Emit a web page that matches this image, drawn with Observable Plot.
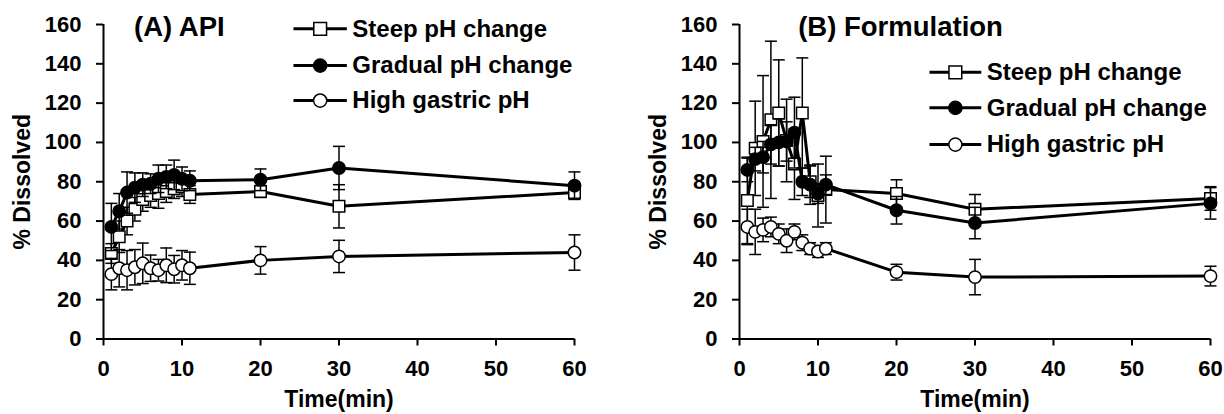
<!DOCTYPE html>
<html><head><meta charset="utf-8">
<script src="https://cdn.jsdelivr.net/npm/d3@7"></script>
<script src="https://cdn.jsdelivr.net/npm/@observablehq/plot@0.6"></script>
<style>
body{margin:0;background:#fff;}
#wrap{width:1224px;height:414px;display:flex;background:#fff;}
</style></head><body><div id="wrap"></div>
<script>
// ---- data ----
const times = [1, 2, 3, 4, 5, 6, 7, 8, 9, 10, 11, 20, 30, 60];
const seriesNames = ["Steep pH change", "Gradual pH change", "High gastric pH"];
const xTicks = [0, 10, 20, 30, 40, 50, 60];
const yTicks = [0, 20, 40, 60, 80, 100, 120, 140, 160];
const panelTitles = ["(A) API", "(B) Formulation"];

// (A) API
const apiSteep      = [43.5, 52, 60, 66, 71, 73, 74, 75, 76.5, 77.5, 73.5, 75, 67.5, 74.5];
const apiSteepSD    = [5, 8, 7, 6, 6, 6, 7.5, 5.5, 5, 5, 4.5, 3, 11, 3];
const apiGradual    = [57, 65, 74.5, 77, 78.5, 79, 81.5, 82.5, 83.5, 81.5, 80.5, 81, 87, 78];
const apiGradualSD  = [12, 9, 10.5, 7.5, 6, 5, 7, 6, 7.5, 6, 5, 5.5, 11, 7];
const apiHigh       = [33, 36, 35, 36.5, 38.5, 36, 35, 37.5, 35.5, 37.5, 36, 40, 42, 44];
const apiHighSD     = [8, 9.5, 10, 9, 10.3, 6.7, 5.5, 8.8, 7, 7.5, 8.2, 7, 8.2, 9];

// (B) Formulation
const formSteep     = [70.5, 97, 100.5, 111.5, 115, 101, 89, 115, 80, 73, 76, 74, 66, 71.5];
const formSteepSD   = [22, 24, 33.5, 40, 27, 21, 18, 28, 8, 16, 17, 7, 7.5, 6];
const formGradual   = [86, 91.5, 92.5, 99, 100, 100.5, 105, 80, 78.5, 74, 78.5, 65.5, 59, 69];
const formGradualSD = [6, 6, 8, 10, 12, 10, 18, 7, 10, 5, 5, 7, 8, 8];
const formHigh      = [57, 54.5, 55.5, 57, 53.5, 50, 54.5, 49, 46, 44.5, 46, 34, 31.5, 32];
const formHighSD    = [9, 11.5, 6, 5, 5, 6, 4, 4, 3, 3, 3, 4, 9, 5];

// ---- styling / layout ----
const FONT = "'Liberation Sans', Arial, Helvetica, sans-serif";
const markerSym = ["square", "circle", "circle"];
const markerFill = ["white", "black", "white"];
const markerR = [6.5, 6.2, 6.2];
const legendR = [7.2, 6.6, 6.6];

const capSymbol = {
  draw(ctx, size) {
    const w = Math.sqrt(size / Math.PI);
    ctx.moveTo(-w, 0);
    ctx.lineTo(w, 0);
  }
};

function rows(values, sds, name) {
  return times.map((t, i) => ({t, v: values[i], sd: sds[i], series: name}));
}

function panel(opts) {
  const {title, series, marginLeft, marginRight, titleDx, legendX1, legendX2, legendTextX, legendY} = opts;
  const marks = [];
  // axes
  marks.push(Plot.ruleX([0], {stroke: "black", strokeWidth: 2}));
  marks.push(Plot.ruleY([0], {stroke: "black", strokeWidth: 2}));
  marks.push(Plot.axisX({ticks: xTicks, tickSize: 7, tickPadding: 14, strokeWidth: 2, label: null,
    fontSize: 22, fontWeight: "bold", tickFormat: d => String(d)}));
  marks.push(Plot.axisY({ticks: yTicks, tickSize: 7, tickPadding: 15, strokeWidth: 2, label: null,
    fontSize: 22, fontWeight: "bold", tickFormat: d => String(d)}));
  // series
  series.forEach((data, k) => {
    marks.push(Plot.ruleX(data, {x: "t", y1: d => d.v - d.sd, y2: d => d.v + d.sd, stroke: "black", strokeWidth: 1.5}));
    marks.push(Plot.dot(data, {x: "t", y: d => d.v + d.sd, symbol: capSymbol, r: 6, fill: "none", stroke: "black", strokeWidth: 1.5}));
    marks.push(Plot.dot(data, {x: "t", y: d => d.v - d.sd, symbol: capSymbol, r: 6, fill: "none", stroke: "black", strokeWidth: 1.5}));
    marks.push(Plot.line(data, {x: "t", y: "v", stroke: "black", strokeWidth: 3, strokeLinejoin: "round"}));
    marks.push(Plot.dot(data, {x: "t", y: "v", symbol: markerSym[k], r: markerR[k], fill: markerFill[k], stroke: "black", strokeWidth: 1.5}));
  });
  // legend
  const leg = seriesNames.map((name, k) => ({name, k, y: legendY[k]}));
  marks.push(Plot.link(leg, {x1: () => legendX1, x2: () => legendX2, y1: "y", y2: "y", stroke: "black", strokeWidth: 3}));
  leg.forEach(d => {
    marks.push(Plot.dot([d], {x: () => (legendX1 + legendX2) / 2, y: "y", symbol: markerSym[d.k], r: legendR[d.k], fill: markerFill[d.k], stroke: "black", strokeWidth: 1.5}));
  });
  marks.push(Plot.text(leg, {x: () => legendTextX, y: "y", text: "name", textAnchor: "start", lineAnchor: "middle", fontSize: 24, fontWeight: "bold", fill: "black"}));
  // titles
  marks.push(Plot.text([title], {frameAnchor: "top-left", dx: titleDx, dy: 2.5, textAnchor: "start", lineAnchor: "middle", fontSize: 27.5, fontWeight: "bold", fill: "black"}));
  marks.push(Plot.text(["% Dissolved"], {frameAnchor: "left", dx: -81, rotate: -90, textAnchor: "middle", lineAnchor: "middle", fontSize: 23, fontWeight: "bold", fill: "black"}));
  marks.push(Plot.text(["Time(min)"], {frameAnchor: "bottom", dy: 61, textAnchor: "middle", lineAnchor: "middle", fontSize: 23, fontWeight: "bold", fill: "black"}));

  return Plot.plot({
    width: 612, height: 414,
    marginLeft, marginRight, marginTop: 24, marginBottom: 75.5,
    style: {fontFamily: FONT, fontWeight: "bold", fontSize: "22px", color: "black", background: "white"},
    x: {domain: [0, 60]},
    y: {domain: [0, 160]},
    marks
  });
}

const wrap = document.getElementById("wrap");
wrap.appendChild(panel({
  title: panelTitles[0],
  series: [rows(apiSteep, apiSteepSD, seriesNames[0]), rows(apiGradual, apiGradualSD, seriesNames[1]), rows(apiHigh, apiHighSD, seriesNames[2])],
  marginLeft: 103, marginRight: 38, titleDx: 30.5,
  legendX1: 24.2, legendX2: 31.0, legendTextX: 31.7, legendY: [157.8, 139.1, 121.3]
}));
wrap.appendChild(panel({
  title: panelTitles[1],
  series: [rows(formSteep, formSteepSD, seriesNames[0]), rows(formGradual, formGradualSD, seriesNames[1]), rows(formHigh, formHighSD, seriesNames[2])],
  marginLeft: 127, marginRight: 14, titleDx: 58.7,
  legendX1: 24.2, legendX2: 30.8, legendTextX: 31.5, legendY: [135.7, 117.6, 98.9]
}));
</script></body></html>
